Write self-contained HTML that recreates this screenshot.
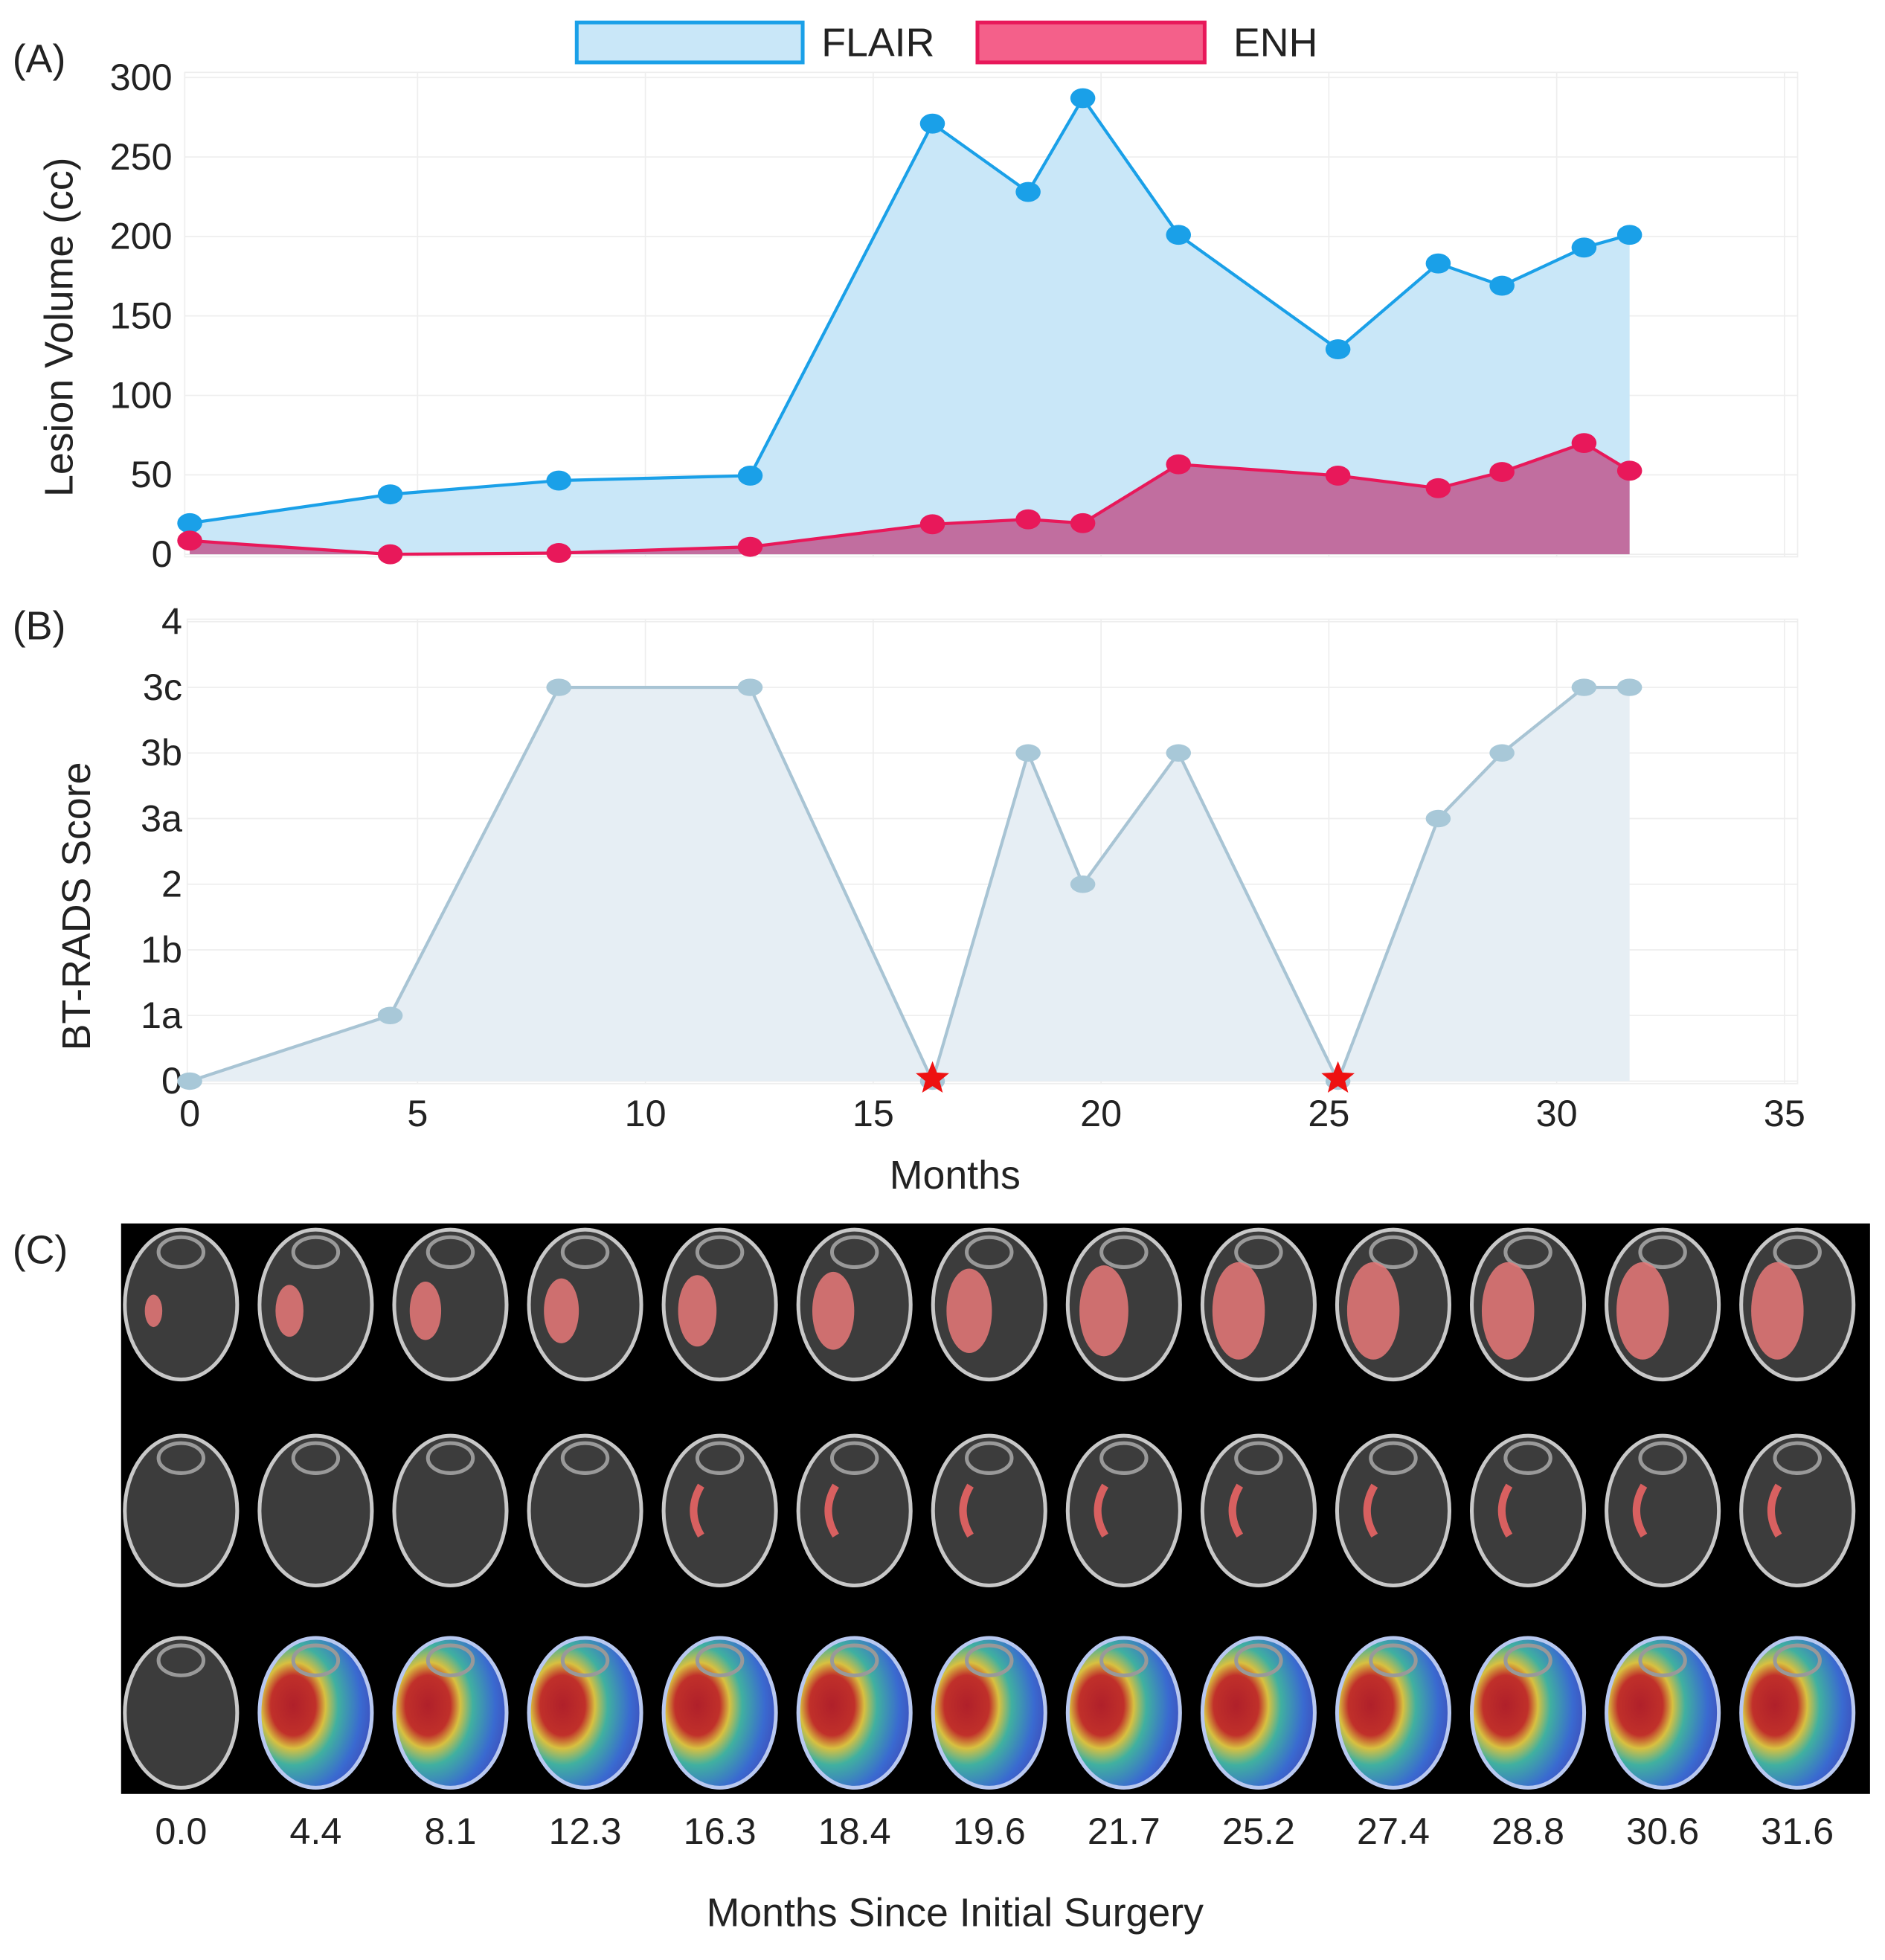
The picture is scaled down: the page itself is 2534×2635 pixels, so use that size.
<!DOCTYPE html>
<html><head><meta charset="utf-8">
<style>
html,body{margin:0;padding:0;background:#fff;}
svg{display:block;font-family:"Liberation Sans Narrow","Liberation Sans",sans-serif;}
.t{font-size:30px;fill:#222;}
.ti{font-family:"Liberation Sans",sans-serif;font-size:32px;fill:#222;}
</style></head>
<body>
<svg id="fig" width="2534" height="2635" viewBox="0 0 1510 1570" preserveAspectRatio="none" xmlns="http://www.w3.org/2000/svg">
<defs>
<radialGradient id="heat" cx="0.3" cy="0.45" r="0.8">
<stop offset="0" stop-color="#b0202a"/><stop offset="0.25" stop-color="#c0302a"/><stop offset="0.36" stop-color="#d8c040"/><stop offset="0.5" stop-color="#40b0a0"/><stop offset="0.75" stop-color="#3a6ad0"/><stop offset="1" stop-color="#4040b0"/>
</radialGradient>
</defs>
<g id="panelA"></g>
<g id="panelB"></g>
<g id="panelC"></g>
</svg>
<script>
const months = [0,4.4,8.1,12.3,16.3,18.4,19.6,21.7,25.2,27.4,28.8,30.6,31.6];
const flairValues = [19.6,37.7,46.4,49.5,271,228,287,201,129,183,169,193,201];
const enhValues = [8.6,0,0.8,4.7,18.9,22,19.6,56.6,49.5,41.6,51.8,70,52.6];
const btradsIndex = [0,1,6,6,0,5,3,5,0,4,5,6,6];
const btradsLabels = ["0","1a","1b","2","3a","3b","3c","4"];
const starMonths = [16.3,25.2];
const xTicks = [0,5,10,15,20,25,30,35];
const volTicks = [0,50,100,150,200,250,300];
const scanLabels = ["0.0","4.4","8.1","12.3","16.3","18.4","19.6","21.7","25.2","27.4","28.8","30.6","31.6"];

const NS="http://www.w3.org/2000/svg";
function mk(parent,tag,attrs,text){const e=document.createElementNS(NS,tag);for(const k in attrs)e.setAttribute(k,attrs[k]);if(text!==undefined)e.textContent=text;parent.appendChild(e);return e;}
const x=m=>152+m*36.5;
const yA=v=>444-v*1.273;
const yB=i=>866-i*52.57;

// Panel A
const A=document.getElementById('panelA');
let e;
e=mk(A,'rect',{x:148,y:58,width:1292,height:388,fill:'none',stroke:'#eee'});


xTicks.forEach(t=>{if(t>0){e=mk(A,'line',{x1:x(t),x2:x(t),y1:58,y2:446,stroke:'#eee'});

}});
volTicks.forEach(v=>{e=mk(A,'line',{x1:148,x2:1440,y1:yA(v),y2:yA(v),stroke:'#eee'});


e=mk(A,'text',{x:138,y:yA(v)+10,'text-anchor':'end',class:'t'},String(v));

});
function area(vals,color,fill,name,r){
  let d='M'+x(months[0])+','+yA(0);
  months.forEach((m,i)=>d+=' L'+x(m)+','+yA(vals[i]));
  d+=' L'+x(months[months.length-1])+','+yA(0)+'Z';
  e=mk(A,'path',{d:d,fill:fill,stroke:'none'});
  
  
  e=mk(A,'polyline',{points:months.map((m,i)=>x(m)+','+yA(vals[i])).join(' '),fill:'none',stroke:color,'stroke-width':2.5});
  
  
  months.forEach((m,i)=>{e=mk(A,'ellipse',{cx:x(m),cy:yA(vals[i]),rx:10,ry:8,fill:color});
  
  });
}
area(flairValues,'#1aa0e8','#c9e7f8','flair');
area(enhValues,'#e8185a','rgba(190,70,130,0.75)','enh');
e=mk(A,'text',{x:10,y:58,class:'ti'},'(A)');


e=mk(A,'text',{x:58,y:262,'text-anchor':'middle',class:'ti',transform:'rotate(-90 58 262)'},'Lesion Volume (cc)');


e=mk(A,'rect',{x:462,y:18,width:181,height:32,fill:'#c9e7f8',stroke:'#1aa0e8','stroke-width':3});


e=mk(A,'text',{x:658,y:45,class:'ti'},'FLAIR');


e=mk(A,'rect',{x:783,y:18,width:182,height:32,fill:'#f4608a',stroke:'#e8185a','stroke-width':3});


e=mk(A,'text',{x:988,y:45,class:'ti'},'ENH');



// Panel B
const B=document.getElementById('panelB');
e=mk(B,'rect',{x:150,y:496,width:1290,height:372,fill:'none',stroke:'#eee'});


xTicks.forEach(t=>{if(t>0){e=mk(B,'line',{x1:x(t),x2:x(t),y1:496,y2:868,stroke:'#eee'});

}
e=mk(B,'text',{x:x(t),y:902,'text-anchor':'middle',class:'t'},String(t));

});
btradsLabels.forEach((l,i)=>{e=mk(B,'line',{x1:150,x2:1440,y1:yB(i),y2:yB(i),stroke:'#eee'});


e=mk(B,'text',{x:146,y:yB(i)+10,'text-anchor':'end',class:'t'},l);

});
let d='M'+x(months[0])+','+yB(0);
months.forEach((m,i)=>d+=' L'+x(m)+','+yB(btradsIndex[i]));
d+=' L'+x(months[months.length-1])+','+yB(0)+'Z';
e=mk(B,'path',{d:d,fill:'#e6eef4'});


e=mk(B,'polyline',{points:months.map((m,i)=>x(m)+','+yB(btradsIndex[i])).join(' '),fill:'none',stroke:'#a8c4d4','stroke-width':2.5});


months.forEach((m,i)=>{e=mk(B,'ellipse',{cx:x(m),cy:yB(btradsIndex[i]),rx:10,ry:7,fill:'#a8c8d8'});

});
starMonths.forEach(m=>{const cx=x(m),cy=yB(0)-2,R=14,r=6;let p=[];for(let k=0;k<10;k++){const a=-Math.PI/2+k*Math.PI/5,rr=k%2?r:R;p.push((cx+rr*Math.cos(a)).toFixed(1)+','+(cy+rr*Math.sin(a)).toFixed(1));}
e=mk(B,'polygon',{points:p.join(' '),fill:'#ee1111'});

});
e=mk(B,'text',{x:10,y:512,class:'ti'},'(B)');


e=mk(B,'text',{x:72,y:726,'text-anchor':'middle',class:'ti',transform:'rotate(-90 72 726)'},'BT-RADS Score');


e=mk(B,'text',{x:765,y:952,'text-anchor':'middle',class:'ti'},'Months');



// Panel C
const C=document.getElementById('panelC');
e=mk(C,'text',{x:10,y:1012,class:'ti'},'(C)');


e=mk(C,'rect',{x:97,y:980,width:1401,height:457,fill:'#000'});


const rowsY=[1045,1210,1372];
scanLabels.forEach((l,i)=>{
  const cx=145+i*107.9;
  rowsY.forEach((cy,r)=>{
    const g=mk(C,'g',{});
    
    
    const heat=(r===2&&i>0);
    mk(g,'ellipse',{cx:cx,cy:cy,rx:45,ry:60,fill:heat?'url(#heat)':'#3c3c3c',stroke:heat?'#b8c8f0':'#c8c8c8','stroke-width':3});
    mk(g,'ellipse',{cx:cx,cy:cy-42,rx:18,ry:12,fill:'none',stroke:'#999','stroke-width':3});
    if(r===0){const s=i===0?10:Math.min(14+i*2,30);mk(g,'ellipse',{cx:cx-22+Math.min(i,6),cy:cy+5,rx:s*0.7,ry:s*1.3,fill:'#e87878',opacity:0.85});}
    if(r===1&&i>=4){mk(g,'path',{d:`M${cx-15},${cy-20} q-12,20 0,40`,fill:'none',stroke:'#d86060','stroke-width':6});}
  });
  e=mk(C,'text',{x:cx,y:1477,'text-anchor':'middle',class:'t'},l);
  
  
});
e=mk(C,'text',{x:765,y:1543,'text-anchor':'middle',class:'ti'},'Months Since Initial Surgery');


</script>
</body></html>
